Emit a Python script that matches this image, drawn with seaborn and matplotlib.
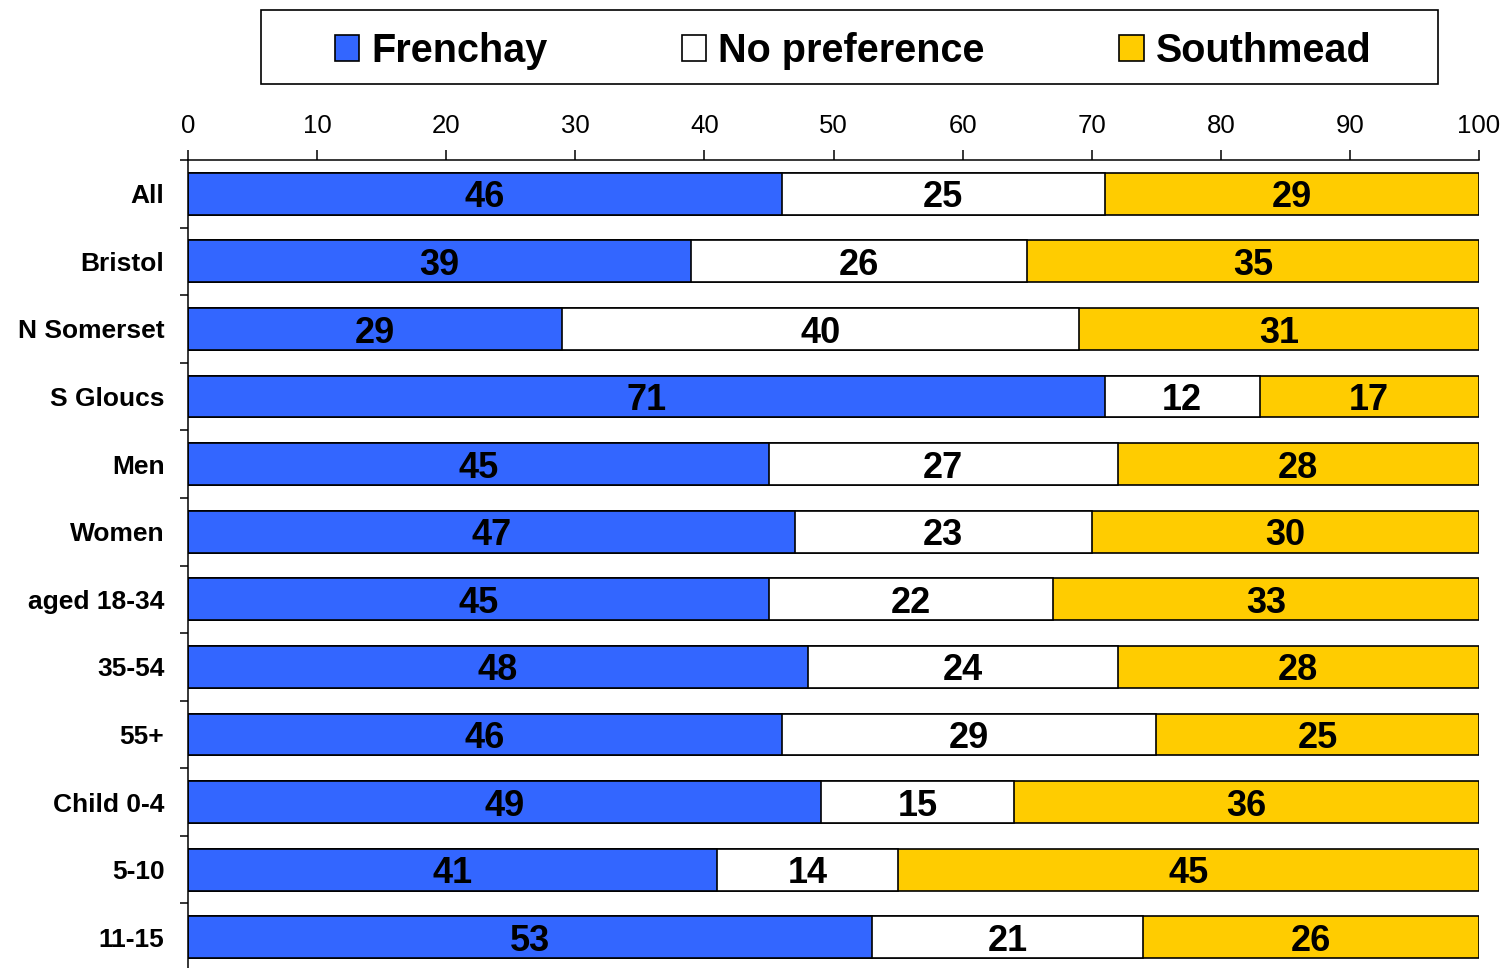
import numpy as np
import pandas as pd
import matplotlib
matplotlib.use("Agg")
import matplotlib.pyplot as plt
from matplotlib.patches import Rectangle, Patch
import seaborn as sns

# values (percent)
groups = ['All', 'Bristol', 'N Somerset', 'S Gloucs', 'Men', 'Women', 'aged 18-34',
          '35-54', '55+', 'Child 0-4', '5-10', '11-15']
frenchay = [46, 39, 29, 71, 45, 47, 45, 48, 46, 49, 41, 53]
no_pref = [25, 26, 40, 12, 27, 23, 22, 24, 29, 15, 14, 21]
southmead = [29, 35, 31, 17, 28, 30, 33, 28, 25, 36, 45, 26]
xticks = list(range(0, 101, 10))

series = ['Frenchay', 'No preference', 'Southmead']
colors = ['#3366FF', '#FFFFFF', '#FFCC00']

df = pd.DataFrame({'group': groups, 'Frenchay': frenchay,
                   'No preference': no_pref, 'Southmead': southmead})
df['c1'] = df['Frenchay']
df['c2'] = df['c1'] + df['No preference']
df['c3'] = df['c2'] + df['Southmead']

sns.set_style('white')
plt.rcParams['font.family'] = ['Liberation Sans', 'DejaVu Sans']
plt.rcParams['text.color'] = 'black'
plt.rcParams['xtick.color'] = 'black'
plt.rcParams['ytick.color'] = 'black'
plt.rcParams['xtick.labelcolor'] = 'black'
plt.rcParams['ytick.labelcolor'] = 'black'

fig = plt.figure(figsize=(15.06, 9.68), dpi=100)
ax = fig.add_axes([188 / 1506, -3 / 968, (1479 - 188) / 1506, (971 - 160) / 968])

# stacked bars: draw the cumulative totals from the back to the front
for col, c in zip(['c3', 'c2', 'c1'], colors[::-1]):
    sns.barplot(data=df, x=col, y='group', orient='h', color=c, saturation=1,
                edgecolor='black', linewidth=1.2, width=0.62, ax=ax)

# segment labels
for i, row in df.iterrows():
    starts = [0, row['c1'], row['c2']]
    for s, name in zip(starts, series):
        v = row[name]
        ax.text(s + v / 2, i + 0.06, str(v), ha='center', va='center',
                fontsize=26, fontweight='bold', color='black')

ax.set_xlim(0, 100)
ax.set_ylim(len(groups) - 0.5, -0.5)
ax.set_xlabel('')
ax.set_ylabel('')

ax.xaxis.tick_top()
ax.set_xticks(xticks)
ax.set_xticklabels([str(t) for t in xticks])
ax.tick_params(axis='x', top=True, bottom=False, direction='out', length=7,
               width=1.1, pad=9, labelsize=18.5, colors='black')
ax.tick_params(axis='y', which='major', length=0, pad=17, labelsize=19, colors='black')
ax.set_yticks(np.arange(-0.5, len(groups), 1), minor=True)
ax.tick_params(axis='y', which='minor', left=True, direction='out', length=6, width=1.1)
for lab in ax.get_yticklabels():
    lab.set_fontweight('bold')
    lab.set_color('black')

for side in ['right', 'bottom']:
    ax.spines[side].set_visible(False)
for side in ['top', 'left']:
    ax.spines[side].set_visible(True)
    ax.spines[side].set_color('black')
    ax.spines[side].set_linewidth(1.1)

# legend with its own frame
handles = [Patch(facecolor=c, edgecolor='black', linewidth=1.2) for c in colors]
fig.legend(handles, series, loc='center', bbox_to_anchor=(853 / 1506, 1 - 51 / 968),
           ncol=3, frameon=False, prop={'size': 28.5, 'weight': 'bold'},
           handlelength=0.62, handleheight=0.62, handletextpad=0.3,
           columnspacing=3.4)
fig.patches.append(Rectangle((261 / 1506, 1 - 84 / 968), (1438 - 261) / 1506, 74 / 968,
                             transform=fig.transFigure, fill=False,
                             edgecolor='black', linewidth=1.2))

fig.savefig('out.png', dpi=100)
